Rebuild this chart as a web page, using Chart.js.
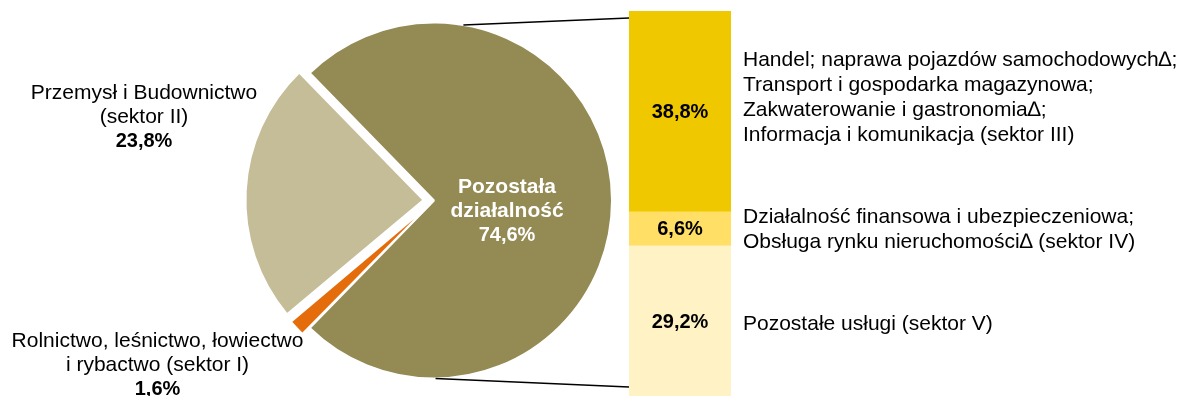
<!DOCTYPE html>
<html lang="pl">
<head>
<meta charset="utf-8">
<title>Struktura pracujących</title>
<script src="https://cdn.jsdelivr.net/npm/chart.js@4.4.1/dist/chart.umd.min.js"></script>
<style>
  html, body { margin: 0; background: #fff; overflow: hidden; }
  #wrap { position: relative; width: 1186px; height: 396px; }
  #pieChart { position: absolute; left: 0; top: 0; }
  #barChart { position: absolute; left: 629px; top: 11px; }
</style>
</head>
<body>
<div id="wrap">
  <canvas id="pieChart" width="1186" height="396"></canvas>
  <canvas id="barChart" width="102" height="386"></canvas>
</div>
<script>
'use strict';

const FONT = '"Liberation Sans", Arial, sans-serif';

// main pie, clockwise from the upper edge of the big slice
const pieLabels = ['Pozostała działalność', 'Rolnictwo, leśnictwo, łowiectwo i rybactwo (sektor I)', 'Przemysł i Budownictwo (sektor II)'];
const pieValues = [74.6, 1.6, 23.8];
const pieColors = ['#948A54', '#E46C0A', '#C4BD97'];
const pieLines = [
  ['Pozostała', 'działalność'],
  ['Rolnictwo, leśnictwo, łowiectwo', 'i rybactwo (sektor I)'],
  ['Przemysł i Budownictwo', '(sektor II)']
];

// split of "Pozostała działalność", stacked bottom to top
const barLabels = ['Sektor V', 'Sektor IV', 'Sektor III'];
const barValues = [29.2, 6.6, 38.8];
const barColors = ['#FFF2C4', '#FFDF66', '#F0C800'];
const barLines = [
  ['Pozostałe usługi (sektor V)'],
  ['Działalność finansowa i ubezpieczeniowa;', 'Obsługa rynku nieruchomości∆ (sektor IV)'],
  ['Handel; naprawa pojazdów samochodowych∆;', 'Transport i gospodarka magazynowa;', 'Zakwaterowanie i gastronomia∆;', 'Informacja i komunikacja (sektor III)']
];

function pct(v) {
  return v.toFixed(1).replace('.', ',') + '%';
}

const barTotal = barValues.reduce((a, b) => a + b, 0);

// value inside each bar piece
const barTextPlugin = {
  id: 'barText',
  afterDraw(chart) {
    const ctx = chart.ctx;
    ctx.save();
    ctx.textAlign = 'center';
    ctx.textBaseline = 'middle';
    ctx.font = 'bold 20px ' + FONT;
    ctx.fillStyle = '#000';
    chart.data.datasets.forEach((ds, i) => {
      const el = chart.getDatasetMeta(i).data[0];
      ctx.fillText(pct(ds.data[0]), el.x, (el.y + el.base) / 2 + 1);
    });
    ctx.restore();
  }
};

const barChart = new Chart(document.getElementById('barChart'), {
  type: 'bar',
  data: {
    labels: [''],
    datasets: barValues.map((v, i) => ({
      label: barLabels[i],
      data: [v],
      backgroundColor: barColors[i],
      borderWidth: 0,
      barPercentage: 1,
      categoryPercentage: 1
    }))
  },
  options: {
    responsive: false,
    animation: false,
    events: [],
    layout: { padding: 0 },
    plugins: { legend: { display: false }, tooltip: { enabled: false } },
    scales: {
      x: { stacked: true, display: false },
      y: { stacked: true, display: false, min: 0, max: barTotal }
    }
  },
  plugins: [barTextPlugin]
});

// labels, connector lines and bar descriptions, all on the big canvas
const pieTextPlugin = {
  id: 'pieText',
  afterDraw(chart) {
    const ctx = chart.ctx;
    const meta = chart.getDatasetMeta(0);
    const big = meta.data[0];
    const cx = big.x;
    const cy = big.y;
    const r = big.outerRadius;

    ctx.save();
    ctx.textAlign = 'center';
    ctx.textBaseline = 'alphabetic';

    // slice labels
    const anchors = [[cx + 73, cy - 7.5], [cx - 276.5, cy + 146.5], [cx - 290, cy - 101.5]];
    pieLines.forEach((lines, i) => {
      const [x, y] = anchors[i];
      const white = i === 0;
      ctx.fillStyle = white ? '#fff' : '#000';
      ctx.font = (white ? 'bold ' : '') + '21px ' + FONT;
      lines.forEach((t, k) => ctx.fillText(t, x, y + k * 24));
      ctx.font = 'bold 20px ' + FONT;
      ctx.fillText(pct(pieValues[i]), x, y + lines.length * 24);
    });

    // connector lines to the bar
    const offX = barChart.canvas.offsetLeft;
    const offY = barChart.canvas.offsetTop;
    const metas = barChart.data.datasets.map((d, i) => barChart.getDatasetMeta(i).data[0]);
    const topEl = metas[metas.length - 1];
    const botEl = metas[0];
    const barLeft = offX + topEl.x - topEl.width / 2;
    const barRight = offX + topEl.x + topEl.width / 2;
    const barTop = offY + topEl.y;
    const barBottom = offY + botEl.base;

    ctx.strokeStyle = '#000';
    ctx.lineWidth = 1.5;
    const a1 = -80.5 * Math.PI / 180;
    const a2 = 89.5 * Math.PI / 180;
    ctx.beginPath();
    ctx.moveTo(cx + r * Math.cos(a1), cy + r * Math.sin(a1));
    ctx.lineTo(barLeft, barTop + 7);
    ctx.moveTo(cx + r * Math.cos(a2), cy + r * Math.sin(a2));
    ctx.lineTo(barLeft, barBottom - 10);
    ctx.stroke();

    // descriptions next to the bar pieces
    const shifts = [1.5, 0, -14.5];
    ctx.textAlign = 'left';
    ctx.font = '21px ' + FONT;
    ctx.fillStyle = '#000';
    metas.forEach((el, i) => {
      const mid = offY + (el.y + el.base) / 2;
      const lines = barLines[i];
      lines.forEach((t, k) => {
        const y = mid + 7 + (k - (lines.length - 1) / 2) * 25 + shifts[i];
        ctx.fillText(t, barRight + 12, y);
      });
    });
    ctx.restore();
  }
};

// big slice centred on 3 o'clock
const startRotation = 90 - pieValues[0] * 3.6 / 2;

new Chart(document.getElementById('pieChart'), {
  type: 'pie',
  data: {
    labels: pieLabels,
    datasets: [{
      data: pieValues,
      backgroundColor: pieColors,
      borderColor: '#fff',
      borderWidth: 2,
      // arc offset is drawn at a quarter of its value
      offset: [0, 20, 42],
      hoverOffset: 0,
      radius: 178,
      rotation: startRotation
    }]
  },
  options: {
    responsive: false,
    animation: false,
    events: [],
    layout: { padding: { left: 0, right: 318, top: 5, bottom: 0 } },
    plugins: { legend: { display: false }, tooltip: { enabled: false } }
  },
  plugins: [pieTextPlugin]
});
</script>
</body>
</html>
